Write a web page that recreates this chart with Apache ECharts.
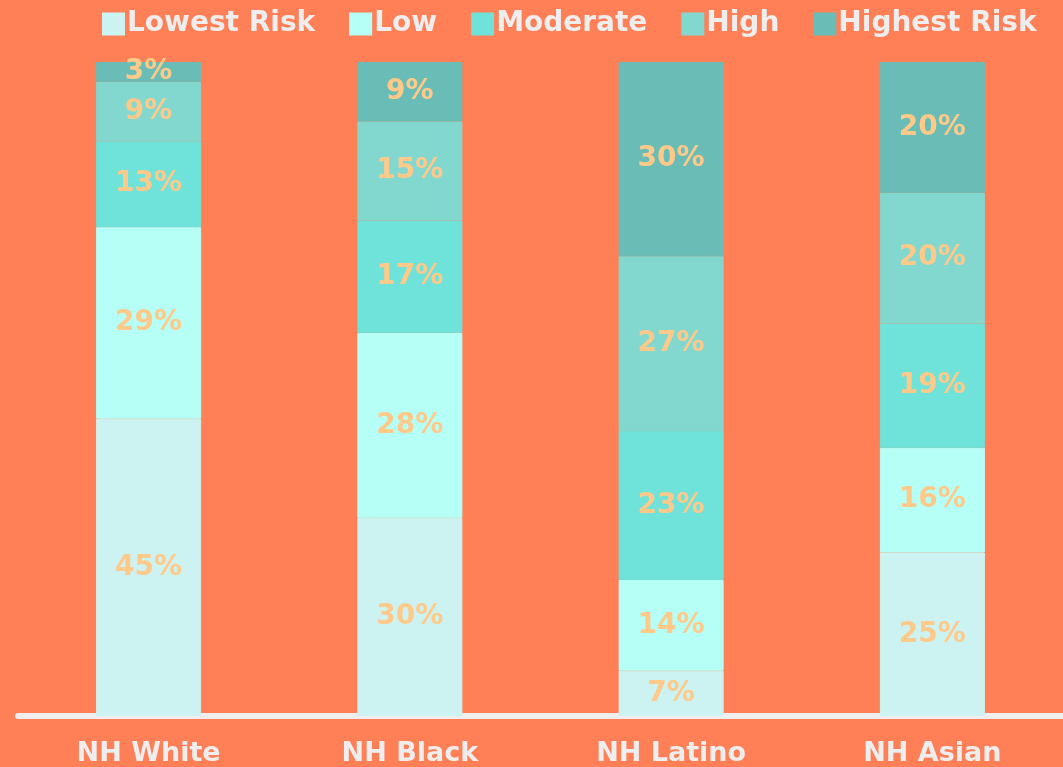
<!DOCTYPE html>
<html>
<head>
<meta charset="utf-8">
<script src="https://cdn.jsdelivr.net/npm/echarts@6/dist/echarts.min.js"></script>
<style>
html,body{margin:0;padding:0;background:#FF7F57;}
#c{width:1063px;height:767px;}
</style>
</head>
<body>
<div id="c"></div>
<script>
var categories = ['NH White', 'NH Black', 'NH Latino', 'NH Asian'];
var seriesNames = ['Lowest Risk', 'Low', 'Moderate', 'High', 'Highest Risk'];
var lowestRisk = [45, 30, 7, 25];
var low = [29, 28, 14, 16];
var moderate = [13, 17, 23, 19];
var high = [9, 15, 27, 20];
var highestRisk = [3, 9, 30, 20];
var colors = ['#CCF3F1', '#B5FFF6', '#6FE2D9', '#82D8CF', '#6ABDB6'];

var raw = [lowestRisk, low, moderate, high, highestRisk];
var totals = categories.map(function (_, i) {
  return raw.reduce(function (s, arr) { return s + arr[i]; }, 0);
});
var FONT = '"DejaVu Sans", sans-serif';

var series = raw.map(function (arr, k) {
  return {
    name: seriesNames[k],
    type: 'bar',
    stack: 'total',
    barWidth: 105,
    itemStyle: { color: colors[k], borderColor: colors[k], borderWidth: 1 },
    label: {
      show: true,
      position: 'inside',
      color: '#FFC98A',
      fontFamily: FONT,
      fontWeight: 'bold',
      fontSize: 28,
      formatter: function (p) { return arr[p.dataIndex] + '%'; }
    },
    data: arr.map(function (v, i) { return v / totals[i] * 100; })
  };
});

var chart = echarts.init(document.getElementById('c'));
chart.setOption({
  backgroundColor: '#FF7F57',
  animation: false,
  legend: {
    top: 5,
    left: 97,
    itemWidth: 21,
    itemHeight: 21,
    itemGap: 34,
    icon: 'rect',
    textStyle: { color: '#EEEEEE', fontFamily: FONT, fontWeight: 'bold', fontSize: 28, padding: [0, 0, 0, -2] },
    data: seriesNames
  },
  grid: { left: 18, right: -4, top: 62, bottom: 51, containLabel: false },
  xAxis: {
    type: 'category',
    data: categories,
    axisLine: { lineStyle: { color: '#EEEEEE', width: 6 } },
    axisTick: { show: false },
    axisLabel: { color: '#EEEEEE', fontFamily: FONT, fontWeight: 'bold', fontSize: 27, margin: 24 }
  },
  yAxis: {
    type: 'value',
    min: 0,
    max: 100,
    show: false,
    splitLine: { show: false }
  },
  series: series
});
</script>
</body>
</html>
